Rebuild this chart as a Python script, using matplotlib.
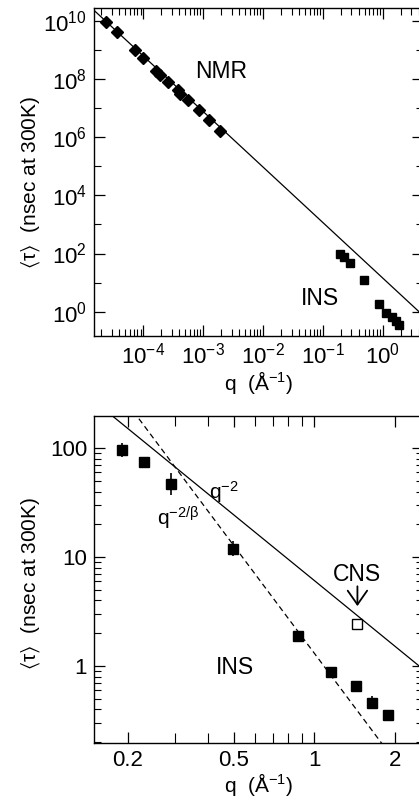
import numpy as np
import matplotlib
matplotlib.use("Agg")
import matplotlib.pyplot as plt
from matplotlib.ticker import LogLocator, FixedLocator, NullFormatter, FuncFormatter

plt.rcParams['font.family'] = ['Liberation Sans', 'DejaVu Sans']
plt.rcParams['mathtext.default'] = 'regular'

# NMR data (top panel)
q_nmr = [2.4e-5, 3.6e-5, 7.3e-5, 9.8e-5, 1.65e-4, 1.9e-4, 2.56e-4, 3.8e-4,
         4.1e-4, 5.6e-4, 8.5e-4, 1.26e-3, 1.9e-3]
tau_nmr = [9.3e9, 4.2e9, 1.0e9, 5.5e8, 1.9e8, 1.4e8, 8.2e7, 4.3e7,
           3.1e7, 1.9e7, 8.9e6, 4.0e6, 1.7e6]

# INS data (both panels)
q_ins = [0.191, 0.230, 0.290, 0.497, 0.867, 1.155, 1.43, 1.65, 1.88]
tau_ins = [96, 75, 47, 12.0, 1.9, 0.89, 0.65, 0.46, 0.355]
tau_ins_lo = [13, 3, 10, 1.8, 0.2, 0.06, 0.03, 0.06, 0.02]
tau_ins_hi = [15, 3, 12, 2.0, 0.2, 0.06, 0.03, 0.07, 0.02]

# CNS point
q_cns = [1.45]
tau_cns = [2.45]

# fits
top_fit_amp, top_fit_exp = 14.4, 1.91
q2_amp = 6.1          # q^-2
qb_amp, qb_exp = 1.31, 3.28   # q^-2/beta

fig = plt.figure(figsize=(4.19, 8.02), dpi=100)

# ---------------- top panel ----------------
ax1 = fig.add_axes([0.2243, 0.5814, 0.785, 0.4089])
ax1.set_xscale('log')
ax1.set_yscale('log')
ax1.set_xlim(1.5e-5, 4.71)
ax1.set_ylim(0.148, 2.87e10)

ql = np.array([1.5e-5, 4.71])
ax1.plot(ql, top_fit_amp * ql ** (-top_fit_exp), '-k', lw=0.9)
ax1.plot(q_nmr, tau_nmr, 'D', color='k', ms=6.5)
ax1.plot(q_ins, tau_ins, 's', color='k', ms=6)

ax1.text(2.0e-3, 1.9e8, 'NMR', fontsize=16.5, ha='center', va='center')
ax1.text(0.091, 2.8, 'INS', fontsize=16.5, ha='center', va='center')

ax1.xaxis.set_major_locator(FixedLocator([1e-5, 1e-4, 1e-3, 1e-2, 1e-1, 1e0]))
ax1.xaxis.set_minor_locator(LogLocator(base=10, subs=np.arange(2, 10), numticks=20))
ax1.xaxis.set_minor_formatter(NullFormatter())
ax1.xaxis.set_major_formatter(FuncFormatter(lambda v, p: r'$10^{%d}$' % round(np.log10(v)) if v > 5e-5 else ''))
ax1.yaxis.set_major_locator(FixedLocator([10.0 ** k for k in range(0, 11, 2)]))
ax1.yaxis.set_minor_locator(FixedLocator([10.0 ** k for k in range(-1, 11, 2)]))
ax1.yaxis.set_minor_formatter(NullFormatter())
ax1.yaxis.set_major_formatter(FuncFormatter(lambda v, p: r'$10^{%d}$' % round(np.log10(v))))
ax1.set_xlabel(r'q  (Å$^{-1}$)', fontsize=15, labelpad=0)
ax1.set_ylabel(r'$\langle\tau\rangle$  (nsec at 300K)', fontsize=15)
ax1.yaxis.set_label_coords(-0.158, 0.466)

# ---------------- bottom panel ----------------
ax2 = fig.add_axes([0.2243, 0.0732, 0.785, 0.4085])
ax2.set_xscale('log')
ax2.set_yscale('log')
ax2.set_xlim(0.1496, 2.55)
ax2.set_ylim(0.195, 199.5)

ql2 = np.array([0.1496, 2.55])
ax2.plot(ql2, q2_amp * ql2 ** (-2.0), '-k', lw=0.9)
ax2.plot(ql2, qb_amp * ql2 ** (-qb_exp), '--k', lw=0.9, dashes=(4.5, 3))
ax2.errorbar(q_ins, tau_ins, yerr=[tau_ins_lo, tau_ins_hi], fmt='s', color='k',
             ms=6.5, elinewidth=1.2, capsize=0)
ax2.plot(q_cns, tau_cns, 's', mfc='white', mec='k', mew=1.0, ms=6.5)

ax2.text(0.46, 40, r'q$^{-2}$', fontsize=15, ha='center', va='center')
ax2.text(0.31, 22.6, r'q$^{-2/\beta}$', fontsize=15, ha='center', va='center')
ax2.text(1.44, 7.0, 'CNS', fontsize=16.5, ha='center', va='center')
ax2.annotate('', xy=(1.45, 3.55), xytext=(1.45, 5.4),
             arrowprops=dict(arrowstyle='->,head_length=0.5,head_width=0.35',
                             color='k', lw=1.3, mutation_scale=20,
                             shrinkA=0, shrinkB=0))
ax2.text(0.506, 0.96, 'INS', fontsize=16.5, ha='center', va='center')

ax2.xaxis.set_major_locator(FixedLocator([0.2, 0.5, 1, 2]))
ax2.xaxis.set_minor_locator(FixedLocator([0.3, 0.4, 0.6, 0.7, 0.8, 0.9]))
ax2.xaxis.set_minor_formatter(NullFormatter())
ax2.xaxis.set_major_formatter(FuncFormatter(lambda v, p: '%g' % v))
ax2.yaxis.set_major_locator(FixedLocator([1, 10, 100]))
ax2.yaxis.set_minor_locator(LogLocator(base=10, subs=np.arange(2, 10), numticks=20))
ax2.yaxis.set_minor_formatter(NullFormatter())
ax2.yaxis.set_major_formatter(FuncFormatter(lambda v, p: '%g' % v))
ax2.set_xlabel(r'q  (Å$^{-1}$)', fontsize=15, labelpad=0)
ax2.set_ylabel(r'$\langle\tau\rangle$  (nsec at 300K)', fontsize=15)
ax2.yaxis.set_label_coords(-0.158, 0.489)

for ax in (ax1, ax2):
    ax.tick_params(which='both', direction='in', top=True, right=True,
                   labelsize=16, pad=5)
    ax.tick_params(which='major', length=8, width=0.9)
    ax.tick_params(which='minor', length=5, width=0.8)
    for s in ax.spines.values():
        s.set_linewidth(1.0)

ax2.tick_params(which='minor', axis='x', length=7)

fig.savefig('out.png', dpi=100)
